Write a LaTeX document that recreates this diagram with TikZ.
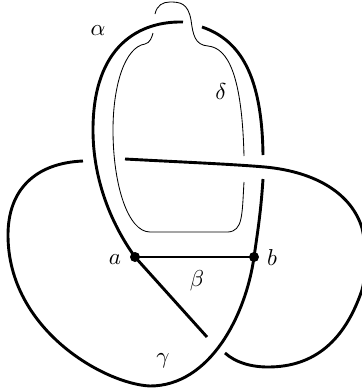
\documentclass[tikz,border=0pt]{standalone}
\tikzset{
  thick strand/.style={line width=2.9pt},
  thin strand/.style={line width=0.85pt},
  vertex/.style={circle,fill=black,inner sep=0pt,minimum size=10pt},
  lab/.style={inner sep=0pt,scale=2.3}
}
\begin{document}
\begin{tikzpicture}[x=1pt,y=-1pt]
\useasboundingbox (0,0) rectangle (362,392);
\node[vertex] (a) at (135,257) {};
\node[vertex] (b) at (254,257) {};
\coordinate (c) at (207,337);
\draw[thick strand] (a.center) -- (b.center);
\draw[thick strand] (a.center) -- (c);
\draw[thick strand] (183,22) .. controls (140,21) and (93,45) .. (93,130)
  .. controls (93,170) and (105,215) .. (a.center);
\draw[thick strand] (202,27) .. controls (240,40) and (262,75) .. (263,155);
\draw[thick strand] (263,179) .. controls (261,210) and (258,230) .. (b.center)
  .. controls (246,315) and (210,386) .. (150,386)
  .. controls (105,384) and (8,330) .. (8,235)
  .. controls (8,190) and (35,163) .. (83,161);
\draw[thick strand] (125,159) .. controls (180,162) and (230,164) .. (265,167)
  .. controls (318,172) and (352,195) .. (362,228)
  .. controls (367,250) and (367,270) .. (362,290)
  .. controls (345,340) and (315,367) .. (268,367)
  .. controls (250,367) and (235,362) .. (225,353);
\draw[thin strand] (155,14) .. controls (157,5) and (163,2) .. (170,2)
  .. controls (180,2) and (188,3) .. (191,20)
  .. controls (193,35) and (195,45) .. (208,46)
  .. controls (228,48) and (242,75) .. (244,156);
\draw[thin strand] (244,182) .. controls (242,215) and (243,231) .. (228,232)
  -- (150,232) .. controls (128,232) and (113,185) .. (113,130)
  .. controls (113,85) and (125,47) .. (145,44)
  .. controls (150,43) and (152,37) .. (153,33);
\node[lab] (la) at (98,31) {$\alpha$};
\node[lab] (ld) at (221,92) {$\delta$};
\node[lab] (na) at (115,260) {$a$};
\node[lab] (nb) at (272,258) {$b$};
\node[lab] (lb) at (197,281) {$\beta$};
\node[lab] (lg) at (163,361) {$\gamma$};
\end{tikzpicture}
\end{document}
